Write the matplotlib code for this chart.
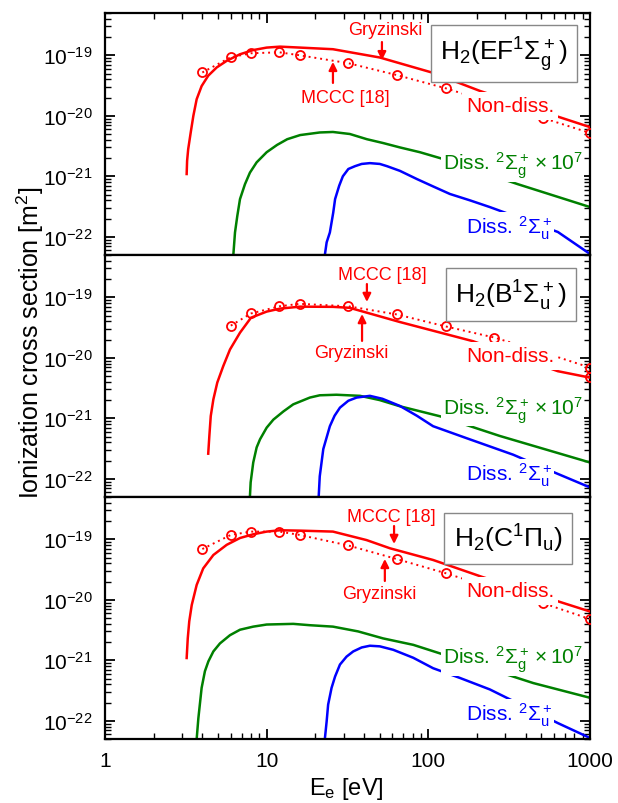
import numpy as np
import matplotlib
matplotlib.use('Agg')
import matplotlib.pyplot as plt
from matplotlib.ticker import LogLocator, FixedLocator, FuncFormatter, NullFormatter

plt.rcParams['font.family'] = ['Liberation Sans', 'DejaVu Sans']
plt.rcParams['mathtext.fontset'] = 'custom'
plt.rcParams['mathtext.rm'] = 'Liberation Sans'
plt.rcParams['mathtext.it'] = 'Liberation Sans:italic'
plt.rcParams['mathtext.bf'] = 'Liberation Sans:bold'

# ---- H2(EF) ----
ef_gry_E = [3.20, 3.22, 3.27, 3.39, 3.52, 3.69, 3.96, 4.35, 4.91, 5.66, 6.84, 8.26, 10.0, 12.1, 16.1, 25.7, 50.0, 105, 209, 624, 1000]
ef_gry_s = [1.09e-21, 1.8e-21, 2.8e-21, 5.3e-21, 1.0e-20, 1.88e-20, 3.1e-20, 4.6e-20, 6.3e-20, 8.1e-20, 1.04e-19, 1.22e-19,
            1.34e-19, 1.39e-19, 1.34e-19, 1.26e-19, 9.2e-20, 5.2e-20, 2.57e-20, 9.8e-21, 6.5e-21]
ef_mccc_E = [4, 6, 8, 12, 16, 32, 64, 128, 256, 512, 1000]
ef_mccc_s = [5.2e-20, 9.3e-20, 1.08e-19, 1.12e-19, 1.0e-19, 7.4e-20, 4.7e-20, 2.85e-20, 1.6e-20, 9.2e-21, 5.2e-21]
ef_g_E = [6.15, 6.22, 6.37, 6.58, 6.84, 7.34, 7.88, 8.67, 10.0, 11.6, 13.4, 16.1, 21.3, 25.7, 32.7, 41.7, 52.4, 66.7,
          88.7, 118, 358, 1000]
ef_g_s = [2e-23, 5e-23, 1.18e-22, 2.2e-22, 4.2e-22, 7.4e-22, 1.15e-21, 1.7e-21, 2.5e-21, 3.3e-21, 4.1e-21, 4.8e-21,
          5.3e-21, 5.4e-21, 5.0e-21, 4.1e-21, 3.55e-21, 3.0e-21, 2.5e-21, 2.0e-21, 7.4e-22, 3.1e-22]
ef_b_E = [22.7, 22.9, 23.5, 24.6, 25.8, 26.5, 28.1, 29.6, 32.0, 35.2, 38.7, 43.5, 50.1, 55.5, 66.7, 85, 107, 136, 181,
          240, 633, 1000]
ef_b_s = [2e-23, 5e-23, 8.1e-23, 1.18e-22, 2.5e-22, 4.2e-22, 7.0e-22, 1.0e-21, 1.32e-21, 1.47e-21, 1.6e-21, 1.65e-21,
          1.6e-21, 1.47e-21, 1.23e-21, 9.0e-22, 6.8e-22, 5.1e-22, 4.0e-22, 3.1e-22, 1.2e-22, 5.2e-23]

# ---- H2(B) ----
b_gry_E = [4.35, 4.42, 4.51, 4.68, 4.95, 5.39, 5.93, 6.84, 8.0, 10.0, 12.1, 16.1, 25.7, 32.6, 66.7, 189, 633, 1000]
b_gry_s = [2.6e-22, 5.1e-22, 1.09e-21, 2.05e-21, 3.9e-21, 7.3e-21, 1.37e-20, 2.6e-20, 4.6e-20, 5.8e-20, 6.5e-20,
           7.0e-20, 6.95e-20, 6.7e-20, 3.9e-20, 1.88e-20, 6.0e-21, 4.7e-21]
b_mccc_E = [6, 8, 12, 16, 32, 64, 128, 256, 512, 1000, 1000]
b_mccc_s = [3.4e-20, 5.4e-20, 7.1e-20, 7.8e-20, 7.1e-20, 5.2e-20, 3.3e-20, 2.16e-20, 1.23e-20, 6.9e-21, 4.9e-21]
b_g_E = [7.80, 7.96, 8.26, 8.67, 9.1, 10.0, 11.0, 12.7, 14.6, 18.5, 21.3, 27.0, 37.8, 50.0, 66.7, 118, 277, 1000]
b_g_s = [3e-23, 8.7e-23, 1.86e-22, 3.3e-22, 4.5e-22, 7.0e-22, 9.5e-22, 1.3e-21, 1.7e-21, 2.2e-21, 2.4e-21, 2.45e-21,
         2.35e-21, 2.0e-21, 1.58e-21, 1.08e-21, 5.1e-22, 1.86e-22]
b_b_E = [20.6, 21.3, 22.4, 24.6, 26.3, 28.4, 32.0, 36.0, 43.5, 52.0, 66.7, 85, 107, 172, 335, 621, 1000]
b_b_s = [2e-23, 1.1e-22, 3.1e-22, 7.4e-22, 1.1e-21, 1.5e-21, 1.95e-21, 2.2e-21, 2.35e-21, 2.1e-21, 1.6e-21, 1.1e-21,
         7.4e-22, 4.7e-22, 2.5e-22, 1.23e-22, 7.2e-23]

# ---- H2(C) ----
c_gry_E = [3.20, 3.25, 3.32, 3.44, 3.69, 4.05, 4.68, 5.66, 6.84, 8.26, 10.0, 12.1, 16.1, 25.7, 41.5, 57.9, 107, 214, 592, 1000]
c_gry_s = [1.09e-21, 2.3e-21, 4.4e-21, 8.2e-21, 1.76e-20, 3.3e-20, 5.5e-20, 8.1e-20, 1.05e-19, 1.21e-19, 1.34e-19,
           1.41e-19, 1.39e-19, 1.34e-19, 9.7e-20, 7.1e-20, 4.55e-20, 2.4e-20, 1.0e-20, 6.4e-21]
c_mccc_E = [4, 6, 8, 12, 16, 32, 64, 128, 256, 512, 1000]
c_mccc_s = [6.9e-20, 1.18e-19, 1.34e-19, 1.34e-19, 1.18e-19, 7.9e-20, 4.7e-20, 2.75e-20, 1.53e-20, 8.8e-21, 4.8e-21]
c_g_E = [3.65, 3.69, 3.78, 3.96, 4.15, 4.36, 4.68, 5.14, 5.93, 6.84, 8.26, 10.0, 14.6, 18.5, 25.7, 36.8, 52.5, 80.7,
         118, 251, 446, 1000]
c_g_s = [2e-23, 5e-23, 1.1e-22, 3.5e-22, 6.6e-22, 9.6e-22, 1.4e-21, 1.9e-21, 2.6e-21, 3.2e-21, 3.6e-21, 3.9e-21,
         4.0e-21, 3.8e-21, 3.6e-21, 3.0e-21, 2.3e-21, 1.8e-21, 1.3e-21, 6.9e-22, 4.2e-22, 2.4e-22]
c_b_E = [22.7, 22.9, 23.5, 24.0, 25.2, 26.5, 28.4, 31.2, 34.3, 38.7, 43.5, 50.1, 60.7, 80.7, 107, 157, 240, 636, 1000]
c_b_s = [2e-23, 5e-23, 9.8e-23, 1.85e-22, 3.5e-22, 5.4e-22, 8.5e-22, 1.15e-21, 1.4e-21, 1.63e-21, 1.74e-21, 1.7e-21,
         1.49e-21, 1.1e-21, 7.4e-22, 5.1e-22, 3.3e-22, 9.1e-23, 5.2e-23]

state_labels = [r'H$_2$(EF$^1\Sigma_\mathrm{g}^+$)', r'H$_2$(B$^1\Sigma_\mathrm{u}^+$)', r'H$_2$(C$^1\Pi_\mathrm{u}$)']
y_major = [1e-22, 1e-21, 1e-20, 1e-19]
x_major = [1, 10, 100, 1000]

panels = [
    dict(gry=(ef_gry_E, ef_gry_s), mccc=(ef_mccc_E, ef_mccc_s), g=(ef_g_E, ef_g_s), b=(ef_b_E, ef_b_s),
         box=(0.823, 0.833), nd=(0.835, 0.616), gl=(0.841, 0.372), bl=(0.833, 0.116),
         # (text, text pos, arrow tail, arrow tip)
         notes=[('Gryzinski', (0.577, 0.930), (0.571, 0.880), (0.571, 0.805)),
                ('MCCC [18]', (0.495, 0.649), (0.470, 0.711), (0.470, 0.798))]),
    dict(gry=(b_gry_E, b_gry_s), mccc=(b_mccc_E, b_mccc_s), g=(b_g_E, b_g_s), b=(b_b_E, b_b_s),
         box=(0.837, 0.837), nd=(0.835, 0.583), gl=(0.841, 0.362), bl=(0.833, 0.095),
         notes=[('MCCC [18]', (0.571, 0.921), (0.540, 0.880), (0.540, 0.806)),
                ('Gryzinski', (0.507, 0.599), (0.530, 0.645), (0.530, 0.756))]),
    dict(gry=(c_gry_E, c_gry_s), mccc=(c_mccc_E, c_mccc_s), g=(c_g_E, c_g_s), b=(c_b_E, c_b_s),
         box=(0.831, 0.829), nd=(0.835, 0.612), gl=(0.841, 0.331), bl=(0.833, 0.103),
         notes=[('MCCC [18]', (0.590, 0.921), (0.596, 0.880), (0.596, 0.806)),
                ('Gryzinski', (0.565, 0.603), (0.577, 0.653), (0.577, 0.744))]),
]

RED, GREEN, BLUE = '#ff0000', '#008000', '#0000ff'

fig = plt.figure(figsize=(6.18, 8.04), dpi=100)
left, width, h = 105 / 618, 485 / 618, 242 / 804
bottoms = [1 - 256 / 804, 1 - 498 / 804, 1 - 740 / 804]


def exp_fmt(v, pos):
    n = int(round(np.log10(v)))
    return r'10$^{%d}$' % n


white = dict(facecolor='white', edgecolor='none', pad=3)
white_thin = dict(facecolor='white', edgecolor='none', pad=1)

for i, (p, bot) in enumerate(zip(panels, bottoms)):
    ax = fig.add_axes([left, bot, width, h])
    ax.set_xscale('log')
    ax.set_yscale('log')
    ax.set_xlim(1, 1000)
    ax.set_ylim(5e-23, 5e-19)

    ax.plot(*p['gry'], color=RED, lw=1.8, zorder=3)
    ax.plot(*p['mccc'], color=RED, lw=1.4, ls=(0, (1, 2)), marker='o', ms=6.5,
            mfc='none', mec=RED, mew=1.3, zorder=3)
    ax.plot(*p['g'], color=GREEN, lw=1.8, zorder=2)
    ax.plot(*p['b'], color=BLUE, lw=1.8, zorder=2)

    ax.text(*p['box'], state_labels[i], transform=ax.transAxes, ha='center', va='center', fontsize=19,
            zorder=6, bbox=dict(boxstyle='square,pad=0.35', facecolor='white', edgecolor='#888888', lw=1))
    ax.text(*p['nd'], 'Non-diss.', transform=ax.transAxes, ha='center', va='center', fontsize=15,
            color=RED, zorder=6, bbox=white)
    ax.text(*p['gl'], r'Diss. ${}^2\Sigma_\mathrm{g}^+ \times 10^7$', transform=ax.transAxes, ha='center',
            va='center', fontsize=15, color=GREEN, zorder=6, bbox=white_thin)
    ax.text(*p['bl'], r'Diss. ${}^2\Sigma_\mathrm{u}^+$', transform=ax.transAxes, ha='center',
            va='center', fontsize=15, color=BLUE, zorder=6, bbox=white_thin)
    for txt, tp, tail, tip in p['notes']:
        ax.text(*tp, txt, transform=ax.transAxes, ha='center', va='center', fontsize=13, color=RED, zorder=6)
        ax.annotate('', xy=tip, xytext=tail, xycoords='axes fraction', textcoords='axes fraction',
                    arrowprops=dict(arrowstyle='-|>', color=RED, lw=1.6, mutation_scale=12,
                                    shrinkA=0, shrinkB=0), zorder=6)

    ax.yaxis.set_major_locator(FixedLocator(y_major))
    ax.yaxis.set_minor_locator(LogLocator(base=10, subs=np.arange(2, 10), numticks=20))
    ax.yaxis.set_major_formatter(FuncFormatter(exp_fmt))
    ax.yaxis.set_minor_formatter(NullFormatter())
    ax.xaxis.set_major_locator(FixedLocator(x_major))
    ax.xaxis.set_minor_locator(LogLocator(base=10, subs=np.arange(2, 10), numticks=20))
    ax.xaxis.set_major_formatter(FuncFormatter(lambda v, pos: '%d' % round(v)))
    ax.xaxis.set_minor_formatter(NullFormatter())

    ax.tick_params(axis='y', which='both', direction='in', left=True, right=True, labelsize=15, pad=9)
    ax.tick_params(axis='x', which='both', direction='in', top=(i == 0), bottom=(i == 2),
                   labelbottom=(i == 2), labelsize=15, pad=9)
    ax.tick_params(which='major', length=7, width=1.3)
    ax.tick_params(which='minor', length=4, width=1.0)
    for s in ax.spines.values():
        s.set_linewidth(1.6)

fig.text(0.049, 0.574, r'Ionization cross section [m$^2$]', rotation=90, ha='center', va='center', fontsize=18)
fig.text(0.56, 0.002, r'E$_\mathrm{e}$ [eV]', ha='center', va='bottom', fontsize=17)

fig.savefig('out.png', dpi=100)
